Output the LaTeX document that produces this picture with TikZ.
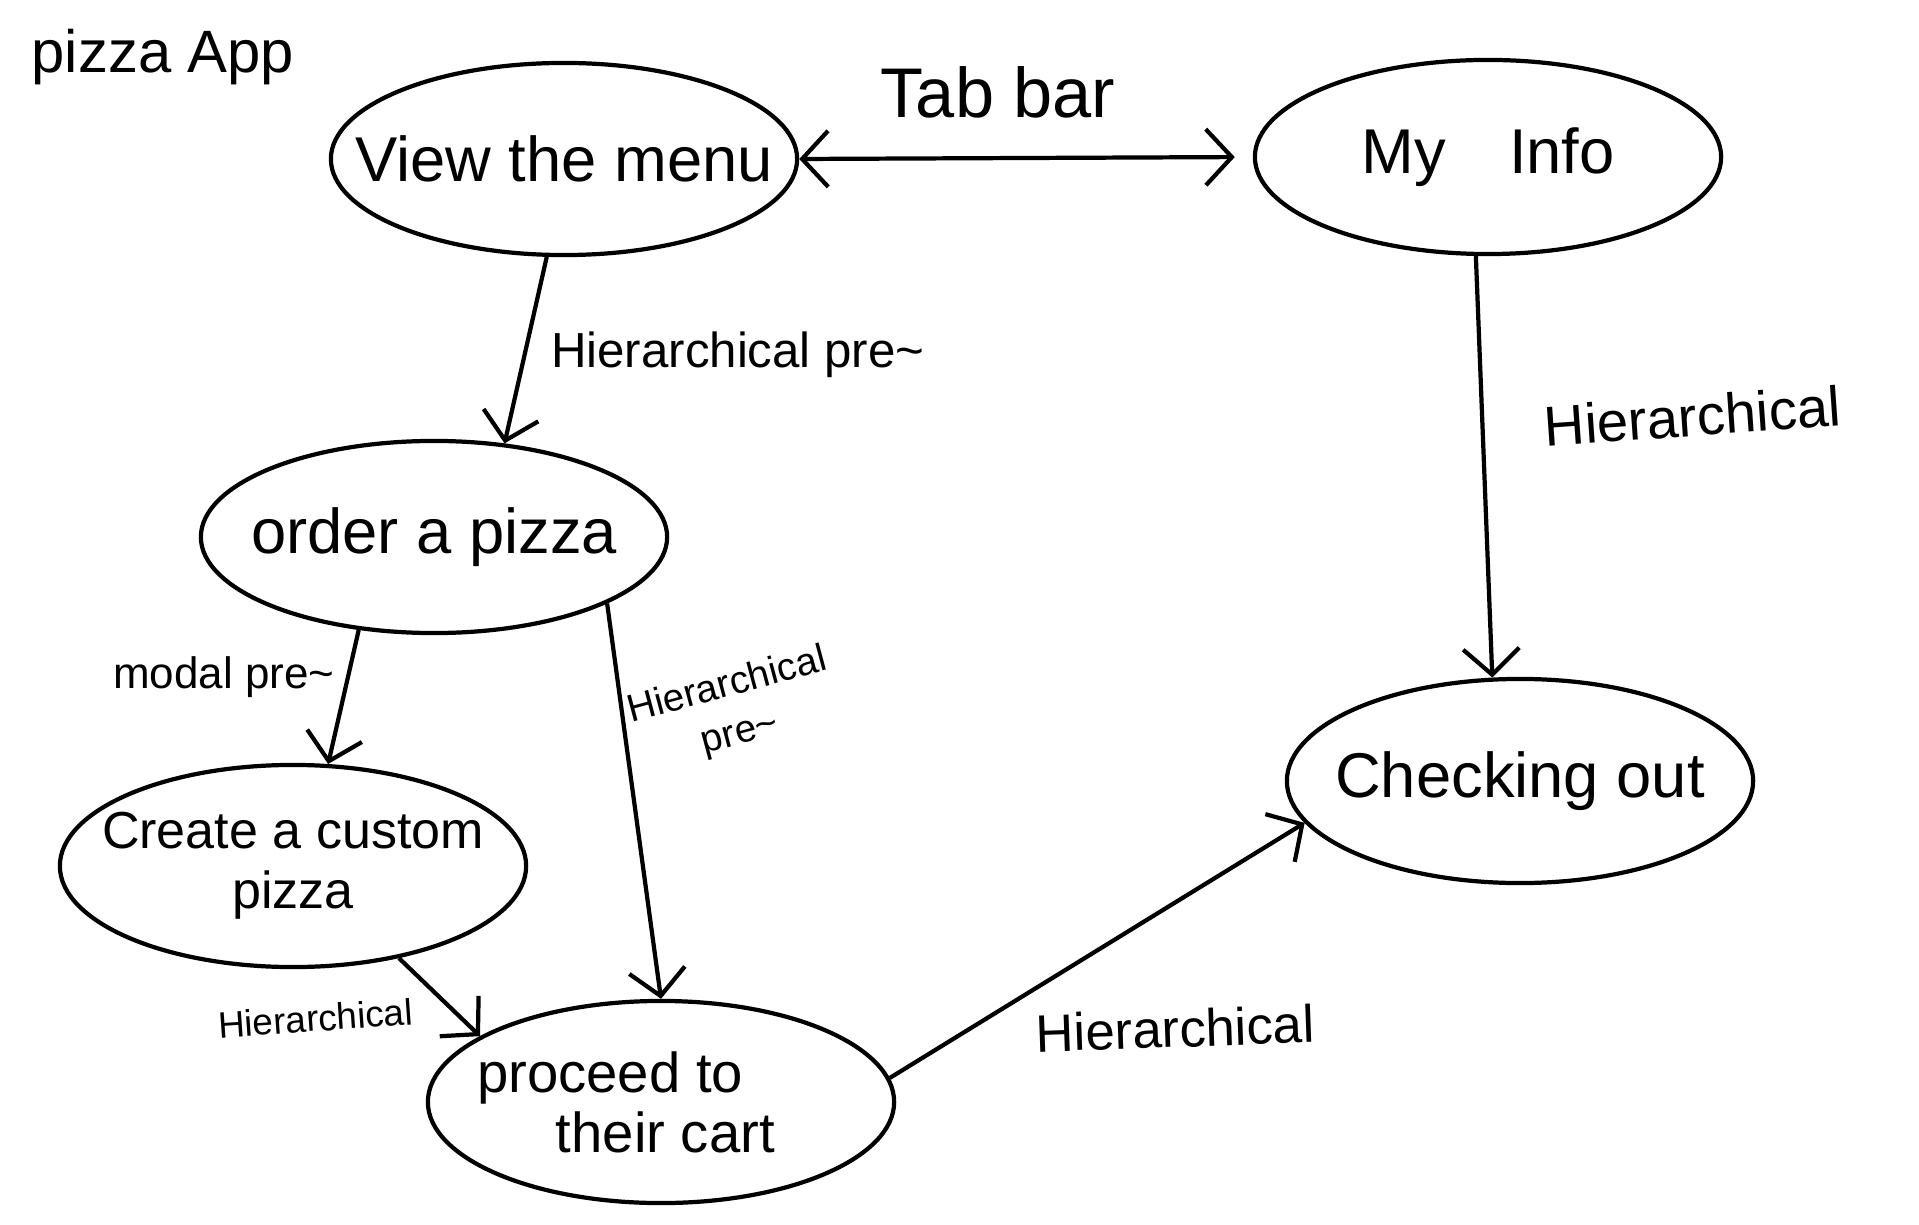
\documentclass[tikz,border=0pt]{standalone}
\usepackage{fontspec}
\setmainfont{Liberation Sans}
\usetikzlibrary{shapes.geometric,arrows.meta}
\begin{document}
\begin{tikzpicture}[x=0.01cm,y=-0.01cm,
	>={Straight Barb[length=2.6mm,width=5.6mm]},
	ecran/.style={draw,ellipse,line width=1.2pt,inner xsep=-2cm,inner ysep=-1cm,minimum width=4.66cm,minimum height=1.92cm,font=\fontsize{18}{22}\selectfont,align=center},
	lien/.style={->,line width=1.2pt},
	etiq/.style={font=\fontsize{14}{17}\selectfont,align=center,inner sep=1pt}]
	\useasboundingbox (0,0) rectangle (1919,1225);

	% Le titre
	\node[font=\fontsize{17}{20}\selectfont] (titre) at (163,57) {pizza App};

	% Les ecrans
	\node[ecran] (menu) at (564,159) {View the menu};
	\node[ecran, minimum height=1.94cm] (info) at (1488,157) {My\quad Info};
	\node[ecran] (order) at (434,537) {order a pizza};
	\node[ecran, minimum height=2.02cm, font=\fontsize{14.8}{17}\selectfont] (custom) at (293,866) {Create a custom\\pizza};
	\node[ecran, minimum height=2.02cm, font=\fontsize{16}{17}\selectfont, align=left] (cart) at (661,1102) {proceed to\\\hspace*{1.4em}their cart\hspace*{7mm}};
	\node[ecran, minimum height=2.04cm] (checkout) at (1520,781) {Checking out};

	% Les liens
	\draw[<->,line width=1.2pt,shorten >=1.8mm] (menu.east) -- node[etiq, xshift=-2.8mm, yshift=6.6mm, font=\fontsize{20}{24}\selectfont] (tab) {Tab bar} (info.west);
	\draw[lien] (menu.-100) -- node[etiq, xshift=21.2mm, yshift=-0.5mm] (l1) {Hierarchical pre\textasciitilde} (order.53);
	\draw[lien] (info.-97) -- node[etiq, pos=0.38, xshift=21mm, rotate=4, font=\fontsize{16}{19}\selectfont] (l2) {Hierarchical} (checkout.105);
	\draw[lien] (order.-129) -- node[etiq, pos=0.35, xshift=-12.4mm, font=\fontsize{12.5}{15}\selectfont] (l3) {modal pre\textasciitilde} (custom.71);
	\draw[lien] (order.-21) -- node[etiq, pos=0.27, xshift=11.2mm, rotate=15, font=\fontsize{11}{14}\selectfont] (l4) {Hierarchical\\pre\textasciitilde} (cart.north);
	\draw[lien] (custom.-41) -- node[etiq, xshift=-12.4mm, yshift=-2.1mm, rotate=4, font=\fontsize{10.5}{13}\selectfont] (l5) {Hierarchical} (cart.160);
	\draw[lien] (cart.6) -- node[etiq, xshift=7.8mm, yshift=-7.8mm, rotate=2, font=\fontsize{15}{18}\selectfont] (l6) {Hierarchical} (checkout.-169);
\end{tikzpicture}
\end{document}
